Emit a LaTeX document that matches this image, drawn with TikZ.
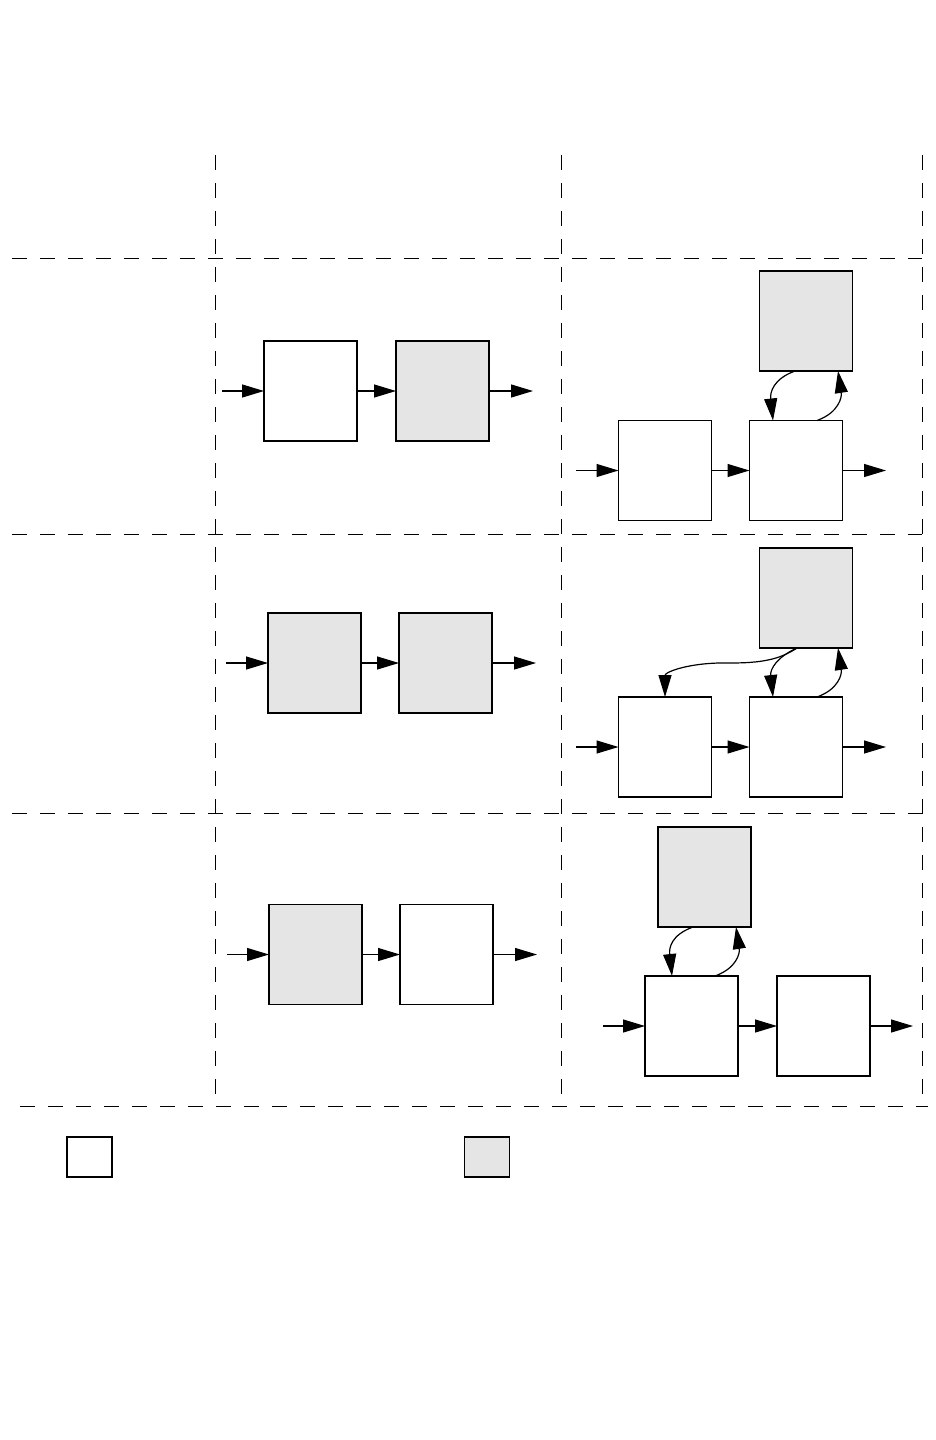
\documentclass[tikz,border=0pt]{standalone}
\usetikzlibrary{arrows.meta,calc}
\definecolor{boxgray}{RGB}{229,229,229}
\begin{document}
\begin{tikzpicture}[x=0.5pt,y=-0.5pt,
  blk/.style={draw=black,line width=0.6pt,minimum width=46.5pt,minimum height=50pt,inner sep=0pt,outer sep=0pt},
  wblk/.style={blk,fill=white},
  gblk/.style={blk,fill=boxgray},
  legw/.style={blk,fill=white,minimum width=22.5pt,minimum height=20pt},
  legg/.style={blk,fill=boxgray,minimum width=22.5pt,minimum height=20pt},
  arr/.style={line width=0.6pt,-{Triangle[length=11pt,width=6.5pt]}},
  gridline/.style={line width=0.5pt,dash pattern=on 7.5pt off 6.5pt}]
\fill[white] (0,0) rectangle (936,1440);
\useasboundingbox (0,0) rectangle (936,1440);

% grid
\draw[gridline] (215,155) -- (215,1106);
\draw[gridline] (561,155) -- (561,1106);
\draw[gridline] (922,155) -- (922,1106);
\draw[gridline] (12,258) -- (922,258);
\draw[gridline] (12,534) -- (922,534);
\draw[gridline] (12,813) -- (922,813);
\draw[gridline] (20,1106) -- (928,1106);

% row 1 middle
\node[wblk] (a1) at (310.5,391) {};
\node[gblk] (b1) at (442.5,391) {};
\coordinate (i1) at (222,391);
\coordinate (o1) at (533,391);
\draw[arr] (i1) -- (a1);
\draw[arr] (a1) -- (b1);
\draw[arr] (b1) -- (o1);

% row 1 right
\node[gblk] (g1) at (806,321) {};
\node[wblk] (c1) at (665,470.5) {};
\node[wblk] (d1) at (796,470.5) {};
\coordinate (j1) at (576,470.5);
\coordinate (p1) at (886,470.5);
\draw[arr] (j1) -- (c1);
\draw[arr] (c1) -- (d1);
\draw[arr] (d1) -- (p1);
\draw[arr] ($(g1.south)+(-11,0)$) .. controls +(-22,8) and +(-3,-28) .. ($(d1.north)+(-23,0)$);
\draw[arr] ($(d1.north)+(21,0)$) .. controls +(22,-8) and +(4,26) .. ($(g1.south)+(32,0)$);

% row 2 middle
\node[gblk] (a2) at (314.5,663) {};
\node[gblk] (b2) at (445.5,663) {};
\coordinate (i2) at (226,663);
\coordinate (o2) at (536,663);
\draw[arr] (i2) -- (a2);
\draw[arr] (a2) -- (b2);
\draw[arr] (b2) -- (o2);

% row 2 right
\node[gblk] (g2) at (806,598) {};
\node[wblk] (c2) at (665,747) {};
\node[wblk] (d2) at (796,747) {};
\coordinate (j2) at (576,747);
\coordinate (p2) at (886,747);
\coordinate (w2) at (730,663);
\draw[arr] (j2) -- (c2);
\draw[arr] (c2) -- (d2);
\draw[arr] (d2) -- (p2);
\draw[arr] ($(g2.south)+(-9,0)$) .. controls +(-18,12) and +(30,0) .. (w2) .. controls +(-40,-1) and +(0,-25) .. (c2.north);
\draw[arr] ($(g2.south)+(-9,0)$) .. controls +(-20,9) and +(-3,-28) .. ($(d2.north)+(-23,0)$);
\draw[arr] ($(d2.north)+(21,0)$) .. controls +(22,-8) and +(4,26) .. ($(g2.south)+(32,0)$);

% row 3 middle
\node[gblk] (a3) at (315.5,954.5) {};
\node[wblk] (b3) at (446.5,954.5) {};
\coordinate (i3) at (227,954.5);
\coordinate (o3) at (537,954.5);
\draw[arr] (i3) -- (a3);
\draw[arr] (a3) -- (b3);
\draw[arr] (b3) -- (o3);

% row 3 right
\node[gblk] (g3) at (704.5,877) {};
\node[wblk] (c3) at (691.5,1026) {};
\node[wblk] (d3) at (823.5,1026) {};
\coordinate (j3) at (603,1026);
\coordinate (p3) at (913,1026);
\draw[arr] (j3) -- (c3);
\draw[arr] (c3) -- (d3);
\draw[arr] (d3) -- (p3);
\draw[arr] ($(g3.south)+(-11.5,0)$) .. controls +(-22,8) and +(-3,-28) .. ($(c3.north)+(-19.5,0)$);
\draw[arr] ($(c3.north)+(23.5,0)$) .. controls +(22,-8) and +(4,26) .. ($(g3.south)+(31.5,0)$);

% legend
\node[legw] (lw) at (89.5,1157) {};
\node[legg] (lg) at (487,1157) {};
\end{tikzpicture}
\end{document}
